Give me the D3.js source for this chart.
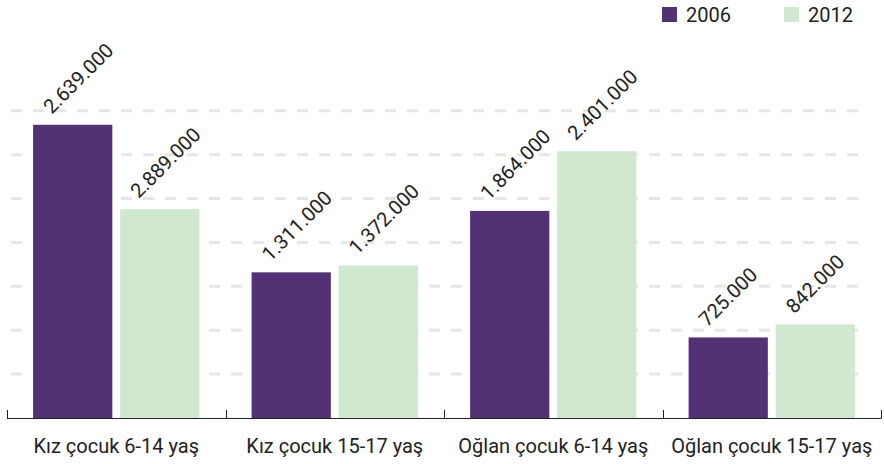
<!DOCTYPE html>
<meta charset="utf-8">
<head>
<title>Çocuk sayıları 2006 - 2012</title>
<style>
  body { margin: 0; background: #fff; }
  svg text { font-family: Roboto, "Noto Sans", sans-serif; fill: #222; }
</style>
</head>
<body>
<div id="chart"></div>
<script src="https://d3js.org/d3.v7.min.js"></script>
<script>
// data
var categories = ["Kız çocuk 6-14 yaş", "Kız çocuk 15-17 yaş", "Oğlan çocuk 6-14 yaş", "Oğlan çocuk 15-17 yaş"];
var years = ["2006", "2012"];
var values2006 = [2639000, 1311000, 1864000, 725000];
var values2012 = [1880000, 1372000, 2401000, 842000];
var labels2006 = ["2.639.000", "1.311.000", "1.864.000", "725.000"];
var labels2012 = ["2.889.000", "1.372.000", "2.401.000", "842.000"];
var gridValues = [395000, 790000, 1185000, 1580000, 1975000, 2370000, 2765000];
var yMax = 3555000;

var colors = {"2006": "#523175", "2012": "#cfe8cf"};

var width = 884, height = 464;

var svg = d3.select("#chart")
  .append("svg")
  .attr("width", width)
  .attr("height", height);

var x = d3.scaleBand()
  .domain(categories)
  .range([7, 881])
  .padding(0);

var xSub = d3.scaleBand()
  .domain(years)
  .range([0, x.bandwidth()])
  .paddingInner(0.09)
  .paddingOuter(0.3);

var y = d3.scaleLinear()
  .domain([0, yMax])
  .range([418, 23]);

// dashed gridlines
svg.append("g")
  .selectAll("line")
  .data(gridValues)
  .join("line")
  .attr("x1", 11)
  .attr("x2", 866)
  .attr("y1", d => y(d))
  .attr("y2", d => y(d))
  .attr("stroke", "#e6e6e6")
  .attr("stroke-width", 3)
  .attr("stroke-dasharray", "11,11");

// build rows
var rows = categories.map(function(c, i) {
  return [
    {cat: c, year: "2006", value: values2006[i], label: labels2006[i]},
    {cat: c, year: "2012", value: values2012[i], label: labels2012[i]}
  ];
}).flat();

svg.append("g")
  .selectAll("rect")
  .data(rows)
  .join("rect")
  .attr("x", d => x(d.cat) + xSub(d.year))
  .attr("y", d => y(d.value))
  .attr("width", xSub.bandwidth())
  .attr("height", d => y(0) - y(d.value))
  .attr("fill", d => colors[d.year]);

// value labels, rotated
svg.append("g")
  .selectAll("text")
  .data(rows)
  .join("text")
  .attr("transform", function(d) {
    var cx = x(d.cat) + xSub(d.year) + xSub.bandwidth() / 2;
    return "translate(" + (cx - 21) + "," + (y(d.value) - 10) + ") rotate(-45)";
  })
  .style("font-size", "20px")
  .text(d => d.label);

// x axis: baseline with ticks at band edges
var axis = svg.append("g");
axis.append("line")
  .attr("x1", x.range()[0])
  .attr("x2", x.range()[1])
  .attr("y1", y(0) + 0.5)
  .attr("y2", y(0) + 0.5)
  .attr("stroke", "#222")
  .attr("stroke-width", 1);

var edges = categories.map(c => x(c)).concat([x.range()[1]]);
axis.selectAll(".tick")
  .data(edges)
  .join("line")
  .attr("class", "tick")
  .attr("x1", d => Math.round(d) + 0.5)
  .attr("x2", d => Math.round(d) + 0.5)
  .attr("y1", y(0) - 8)
  .attr("y2", y(0) + 0.5)
  .attr("stroke", "#222");

axis.selectAll(".cat")
  .data(categories)
  .join("text")
  .attr("class", "cat")
  .attr("x", d => x(d) + x.bandwidth() / 2)
  .attr("y", 453)
  .attr("text-anchor", "middle")
  .style("font-size", "20px")
  .text(d => d);

// legend
var legendX = [662, 784];
var legend = svg.append("g")
  .selectAll("g")
  .data(years)
  .join("g")
  .attr("transform", (d, i) => "translate(" + legendX[i] + ",7)");
legend.append("rect")
  .attr("width", 15)
  .attr("height", 15)
  .attr("fill", d => colors[d]);
legend.append("text")
  .attr("x", 24)
  .attr("y", 15)
  .style("font-size", "20px")
  .text(d => d);
</script>
</body>
